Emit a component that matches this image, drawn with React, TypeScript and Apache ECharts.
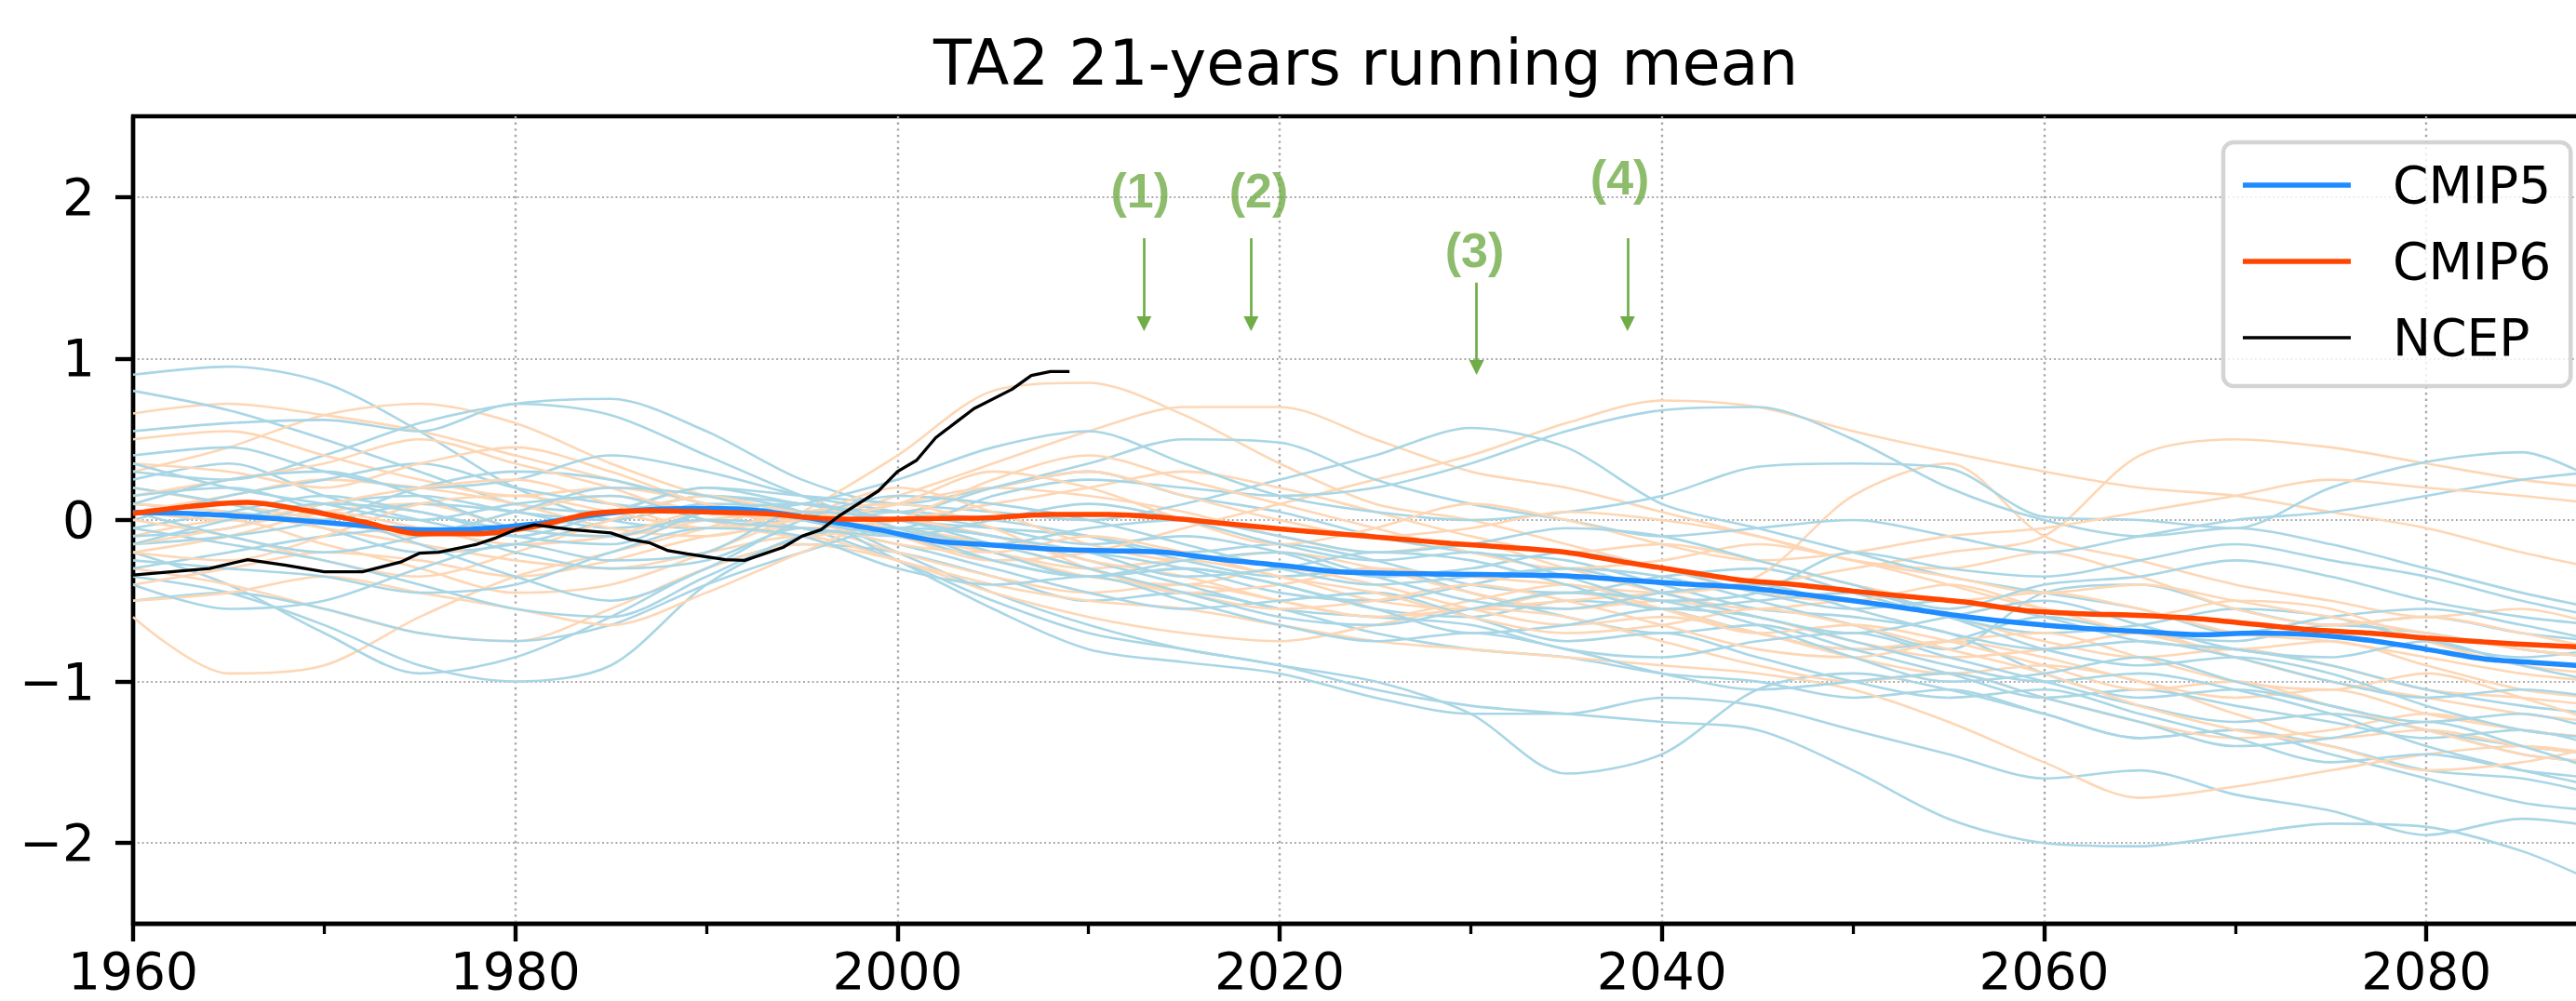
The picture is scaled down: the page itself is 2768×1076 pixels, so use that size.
import React, { useEffect, useRef } from 'react';
import * as echarts from 'echarts';

// ---------- data ----------
const memberYears = [1960, 1965, 1970, 1975, 1980, 1985, 1990, 1995, 2000, 2005, 2010, 2015, 2020, 2025, 2030, 2035, 2040, 2045, 2050, 2055, 2060, 2065, 2070, 2075, 2080, 2085, 2089];

const cmip5Members = [
  [0.90, 0.95, 0.85, 0.55, 0.20, 0.00, -0.05, 0.00, -0.10, -0.25, -0.35, -0.30, -0.40, -0.55, -0.60, -0.50, -0.55, -0.70, -0.80, -0.75, -0.60, -0.70, -0.75, -0.65, -0.70, -0.80, -0.85],
  [0.80, 0.68, 0.50, 0.30, 0.10, 0.05, 0.15, 0.10, 0.00, -0.05, -0.10, -0.20, -0.15, -0.25, -0.40, -0.45, -0.35, -0.30, -0.45, -0.60, -0.70, -0.65, -0.55, -0.60, -0.75, -0.85, -0.80],
  [0.30, 0.25, 0.40, 0.60, 0.72, 0.75, 0.55, 0.25, 0.10, 0.20, 0.30, 0.15, 0.05, -0.10, -0.20, -0.25, -0.40, -0.55, -0.60, -0.70, -0.95, -1.10, -1.05, -1.15, -1.30, -1.40, -1.45],
  [0.55, 0.60, 0.62, 0.55, 0.72, 0.65, 0.40, 0.15, -0.05, -0.15, -0.20, -0.30, -0.45, -0.50, -0.40, -0.30, -0.35, -0.50, -0.65, -0.80, -0.45, -0.40, -0.55, -0.65, -0.60, -0.70, -0.75],
  [-0.35, -0.45, -0.65, -0.90, -1.00, -0.90, -0.40, -0.10, 0.05, 0.00, -0.10, -0.25, -0.35, -0.30, -0.45, -0.60, -0.70, -0.65, -0.80, -0.95, -1.10, -1.05, -1.15, -1.25, -1.35, -1.30, -1.40],
  [-0.20, -0.40, -0.70, -0.95, -0.85, -0.60, -0.30, -0.15, -0.20, -0.35, -0.50, -0.45, -0.55, -0.70, -0.80, -0.85, -0.95, -1.00, -1.10, -1.05, -1.20, -1.35, -1.30, -1.40, -1.55, -1.60, -1.70],
  [0.10, 0.05, 0.00, 0.10, 0.05, -0.05, 0.00, -0.05, -0.25, -0.50, -0.70, -0.80, -0.90, -1.00, -1.20, -1.57, -1.45, -1.05, -0.95, -1.05, -1.20, -1.35, -1.30, -1.45, -1.60, -1.75, -1.80],
  [-0.10, -0.05, 0.10, 0.15, 0.05, 0.00, 0.10, 0.05, -0.20, -0.45, -0.65, -0.80, -0.90, -1.05, -1.15, -1.20, -1.25, -1.30, -1.55, -1.85, -2.00, -2.02, -1.95, -1.88, -1.90, -2.05, -2.25],
  [0.20, 0.10, -0.05, -0.20, -0.15, 0.00, 0.15, 0.05, -0.25, -0.55, -0.80, -0.88, -0.95, -1.10, -1.20, -1.20, -1.10, -1.15, -1.30, -1.45, -1.60, -1.55, -1.70, -1.80, -1.95, -1.85, -1.90],
  [-0.05, 0.05, 0.15, 0.05, -0.05, 0.05, 0.20, 0.15, 0.10, 0.05, 0.00, 0.10, 0.25, 0.40, 0.57, 0.45, 0.10, -0.05, -0.20, -0.35, -0.45, -0.55, -0.70, -0.60, -0.55, -0.65, -0.75],
  [-0.15, -0.10, 0.00, 0.20, 0.30, 0.25, 0.10, 0.00, -0.05, 0.15, 0.25, 0.20, 0.15, 0.20, 0.35, 0.55, 0.68, 0.70, 0.50, 0.20, 0.00, -0.10, -0.05, -0.15, -0.30, -0.45, -0.55],
  [0.00, 0.15, 0.25, 0.35, 0.20, 0.10, 0.05, 0.10, 0.25, 0.45, 0.55, 0.35, 0.15, 0.05, 0.00, 0.05, 0.15, 0.33, 0.35, 0.32, 0.02, 0.00, -0.05, 0.20, 0.36, 0.42, 0.24],
  [0.25, 0.35, 0.15, 0.00, -0.10, 0.05, 0.20, 0.10, 0.05, 0.20, 0.35, 0.50, 0.48, 0.25, 0.10, 0.00, -0.10, -0.05, 0.00, -0.10, -0.20, -0.10, 0.00, 0.05, 0.15, 0.25, 0.30],
  [-0.50, -0.45, -0.55, -0.70, -0.75, -0.65, -0.40, -0.20, -0.05, -0.10, -0.25, -0.40, -0.55, -0.60, -0.65, -0.80, -0.85, -0.75, -0.70, -0.85, -1.00, -1.15, -1.25, -1.20, -1.30, -1.45, -1.50],
  [0.40, 0.45, 0.30, 0.20, 0.25, 0.40, 0.30, 0.15, 0.05, -0.05, -0.15, -0.10, -0.20, -0.35, -0.30, -0.20, -0.30, -0.45, -0.55, -0.50, -0.60, -0.75, -0.80, -0.90, -1.05, -1.15, -1.20],
  [-0.30, -0.20, -0.10, -0.05, -0.20, -0.30, -0.25, -0.05, -0.15, -0.30, -0.45, -0.55, -0.50, -0.45, -0.60, -0.75, -0.70, -0.85, -1.00, -1.10, -1.05, -1.20, -1.35, -1.50, -1.45, -1.55, -1.60],
  [0.15, 0.20, 0.05, -0.15, -0.35, -0.50, -0.30, 0.00, 0.15, 0.10, 0.00, -0.15, -0.30, -0.40, -0.35, -0.30, -0.45, -0.60, -0.70, -0.60, -0.50, -0.65, -0.80, -0.85, -0.75, -0.90, -1.00],
  [-0.05, -0.15, -0.25, -0.40, -0.55, -0.60, -0.35, -0.10, -0.05, -0.20, -0.35, -0.30, -0.40, -0.55, -0.70, -0.65, -0.55, -0.60, -0.75, -0.90, -1.00, -0.95, -1.05, -1.20, -1.40, -1.55, -1.65],
  [0.05, -0.10, -0.20, -0.10, 0.05, 0.20, 0.15, 0.00, -0.10, -0.15, -0.05, 0.00, -0.10, -0.20, -0.15, -0.05, -0.10, -0.25, -0.40, -0.55, -0.40, -0.35, -0.25, -0.35, -0.50, -0.60, -0.65],
  [-0.25, -0.30, -0.35, -0.45, -0.40, -0.20, -0.05, -0.10, -0.30, -0.40, -0.35, -0.50, -0.65, -0.75, -0.70, -0.80, -0.95, -1.05, -1.00, -0.95, -1.10, -1.25, -1.40, -1.35, -1.25, -1.40, -1.55],
  [0.35, 0.20, 0.10, 0.00, 0.10, 0.15, 0.00, -0.05, -0.10, 0.00, 0.10, 0.00, -0.15, -0.25, -0.20, -0.35, -0.50, -0.45, -0.20, -0.30, -0.35, -0.25, -0.15, -0.25, -0.35, -0.50, -0.60],
  [-0.40, -0.55, -0.50, -0.30, -0.15, -0.25, -0.20, 0.05, 0.00, -0.15, -0.30, -0.45, -0.60, -0.65, -0.55, -0.45, -0.50, -0.65, -0.85, -1.00, -0.95, -0.85, -1.00, -1.15, -1.25, -1.20, -1.30],
  [0.10, 0.25, 0.30, 0.15, -0.05, -0.10, 0.05, 0.10, 0.00, -0.10, -0.20, -0.35, -0.30, -0.20, -0.25, -0.40, -0.55, -0.50, -0.45, -0.60, -0.80, -0.90, -0.85, -0.95, -1.15, -1.30, -1.35],
  [-0.15, 0.00, 0.10, 0.05, -0.10, -0.15, 0.05, 0.10, -0.05, -0.25, -0.35, -0.25, -0.20, -0.35, -0.50, -0.55, -0.45, -0.40, -0.55, -0.70, -0.80, -0.75, -0.85, -1.00, -1.10, -1.05, -1.10],
];

const cmip6Members = [
  [0.66, 0.72, 0.65, 0.55, 0.40, 0.25, 0.10, 0.00, 0.10, 0.20, 0.15, 0.05, -0.10, -0.20, -0.15, -0.30, -0.45, -0.55, -0.50, -0.60, -0.75, -0.85, -0.80, -0.90, -1.05, -1.10, -1.15],
  [0.30, 0.45, 0.65, 0.72, 0.60, 0.35, 0.15, 0.05, -0.10, -0.20, -0.30, -0.25, -0.35, -0.50, -0.55, -0.45, -0.55, -0.70, -0.80, -0.75, -0.85, -1.00, -1.10, -1.05, -1.20, -1.30, -1.35],
  [-0.60, -0.95, -0.90, -0.60, -0.35, -0.20, -0.05, 0.10, -0.05, -0.20, -0.35, -0.40, -0.30, -0.40, -0.55, -0.65, -0.60, -0.70, -0.85, -0.95, -0.90, -1.00, -1.20, -1.35, -1.30, -1.40, -1.45],
  [-0.10, 0.00, -0.15, -0.30, -0.45, -0.40, -0.20, 0.05, 0.40, 0.80, 0.85, 0.65, 0.35, 0.10, 0.00, -0.15, -0.30, -0.45, -0.50, -0.40, -0.55, -0.70, -0.80, -0.75, -0.90, -1.05, -1.10],
  [0.20, 0.10, 0.00, -0.10, 0.05, 0.15, 0.05, 0.00, 0.15, 0.35, 0.55, 0.70, 0.70, 0.50, 0.30, 0.20, 0.05, -0.10, -0.25, -0.30, -0.20, -0.35, -0.55, -0.65, -0.60, -0.70, -0.80],
  [-0.20, -0.10, 0.05, 0.10, -0.05, -0.10, 0.00, 0.05, -0.10, -0.25, -0.20, -0.05, 0.10, 0.25, 0.40, 0.60, 0.74, 0.70, 0.55, 0.42, 0.30, 0.20, 0.15, 0.05, -0.05, -0.20, -0.30],
  [0.05, 0.15, 0.25, 0.20, 0.10, -0.05, -0.10, 0.00, -0.05, -0.15, -0.30, -0.45, -0.40, -0.30, -0.35, -0.40, -0.45, -0.35, 0.15, 0.35, -0.10, -0.25, -0.40, -0.50, -0.60, -0.55, -0.65],
  [-0.40, -0.30, -0.20, -0.25, -0.35, -0.25, -0.10, -0.05, -0.20, -0.35, -0.45, -0.40, -0.50, -0.60, -0.55, -0.50, -0.45, -0.40, -0.30, -0.20, -0.10, 0.40, 0.50, 0.45, 0.35, 0.25, 0.20],
  [0.10, 0.05, -0.05, -0.15, -0.25, -0.30, -0.20, -0.10, -0.25, -0.40, -0.50, -0.55, -0.65, -0.75, -0.80, -0.85, -0.90, -0.95, -1.05, -1.25, -1.50, -1.72, -1.65, -1.55, -1.45, -1.40, -1.45],
  [0.50, 0.55, 0.40, 0.25, 0.15, 0.20, 0.10, -0.05, 0.00, 0.10, 0.20, 0.30, 0.20, 0.05, -0.10, -0.20, -0.15, -0.25, -0.40, -0.50, -0.45, -0.55, -0.70, -0.75, -0.85, -0.95, -1.00],
  [-0.30, -0.40, -0.55, -0.70, -0.75, -0.55, -0.30, -0.15, -0.25, -0.45, -0.60, -0.70, -0.75, -0.65, -0.55, -0.60, -0.75, -0.90, -1.00, -0.95, -1.10, -1.25, -1.35, -1.30, -1.20, -1.30, -1.35],
  [0.00, -0.10, -0.25, -0.35, -0.20, 0.00, 0.15, 0.05, 0.05, 0.20, 0.30, 0.15, 0.00, -0.10, -0.05, 0.05, 0.00, -0.10, -0.25, -0.35, -0.45, -0.40, -0.50, -0.60, -0.70, -0.80, -0.85],
  [0.35, 0.30, 0.20, 0.35, 0.45, 0.30, 0.10, 0.05, 0.20, 0.05, -0.15, -0.25, -0.20, -0.30, -0.45, -0.55, -0.50, -0.60, -0.75, -0.85, -0.80, -0.70, -0.85, -1.00, -1.10, -1.20, -1.25],
  [-0.50, -0.45, -0.35, -0.45, -0.55, -0.65, -0.45, -0.20, 0.00, -0.10, -0.25, -0.35, -0.50, -0.60, -0.50, -0.40, -0.55, -0.70, -0.65, -0.75, -0.90, -1.05, -1.00, -1.15, -1.30, -1.45, -1.50],
  [0.15, 0.25, 0.35, 0.50, 0.35, 0.20, 0.00, -0.10, 0.00, 0.25, 0.40, 0.25, 0.10, -0.05, -0.20, -0.30, -0.25, -0.15, -0.25, -0.40, -0.55, -0.60, -0.50, -0.55, -0.75, -0.90, -0.95],
  [-0.20, -0.25, -0.10, 0.10, 0.15, 0.05, -0.05, 0.05, 0.10, -0.05, -0.30, -0.45, -0.55, -0.50, -0.40, -0.50, -0.65, -0.80, -0.85, -0.75, -0.70, -0.85, -1.00, -1.05, -0.95, -1.10, -1.25],
  [0.05, 0.00, 0.10, 0.20, 0.25, 0.10, -0.05, 0.00, 0.10, 0.30, 0.20, 0.00, -0.15, -0.05, 0.10, 0.00, -0.15, -0.25, -0.20, -0.10, -0.05, 0.05, 0.15, 0.25, 0.20, 0.15, 0.10],
  [-0.15, -0.05, 0.05, -0.05, -0.15, -0.10, 0.05, 0.00, -0.15, -0.20, -0.10, -0.20, -0.35, -0.45, -0.60, -0.70, -0.65, -0.55, -0.65, -0.80, -0.95, -1.15, -1.30, -1.40, -1.55, -1.50, -1.40],
];

const meanYears = [1960, 1963, 1966, 1969, 1972, 1975, 1978, 1981, 1984, 1987, 1990, 1993, 1996, 1999, 2002, 2005, 2008, 2011, 2014, 2017, 2020, 2023, 2026, 2029, 2032, 2035, 2038, 2041, 2044, 2047, 2050, 2053, 2056, 2059, 2062, 2065, 2068, 2071, 2074, 2077, 2080, 2083, 2086, 2089];
const cmip5Mean = [0.047, 0.04, 0.02, -0.005, -0.035, -0.06, -0.055, -0.025, 0.03, 0.065, 0.072, 0.055, 0.0, -0.06, -0.13, -0.155, -0.18, -0.19, -0.2, -0.245, -0.28, -0.32, -0.33, -0.335, -0.34, -0.345, -0.37, -0.395, -0.415, -0.455, -0.5, -0.55, -0.6, -0.64, -0.67, -0.69, -0.71, -0.7, -0.71, -0.745, -0.8, -0.86, -0.885, -0.91];
const cmip6Mean = [0.04, 0.085, 0.11, 0.06, -0.01, -0.085, -0.085, -0.04, 0.04, 0.058, 0.05, 0.04, 0.01, 0.005, 0.01, 0.015, 0.035, 0.035, 0.015, -0.02, -0.055, -0.085, -0.115, -0.145, -0.17, -0.2, -0.26, -0.315, -0.37, -0.4, -0.44, -0.475, -0.51, -0.56, -0.58, -0.59, -0.61, -0.645, -0.68, -0.7, -0.73, -0.755, -0.775, -0.79];

const ncepYears = [1960, 1962, 1964, 1966, 1968, 1970, 1972, 1974, 1975, 1976, 1978, 1979, 1980, 1981, 1983, 1985, 1986, 1987, 1988, 1989, 1991, 1992, 1994, 1995, 1996, 1997, 1999, 2000, 2001, 2002, 2003, 2004, 2006, 2007, 2008, 2009];
const ncepValues = [-0.34, -0.32, -0.3, -0.245, -0.28, -0.32, -0.32, -0.26, -0.205, -0.2, -0.15, -0.11, -0.06, -0.03, -0.06, -0.08, -0.12, -0.14, -0.19, -0.21, -0.245, -0.25, -0.17, -0.1, -0.06, 0.03, 0.18, 0.3, 0.37, 0.51, 0.6, 0.69, 0.81, 0.895, 0.92, 0.92];

const yTickValues = [-2, -1, 0, 1, 2];

const annotationTexts = ['(1)', '(2)', '(3)', '(4)'];
const annotationTextX = [2012.7, 2018.9, 2030.2, 2037.8];
const annotationTextY = [2.04, 2.04, 1.67, 2.12];
const arrowX = [2012.9, 2018.5, 2030.3, 2038.2];
const arrowStartY = [1.745, 1.745, 1.47, 1.745];
const arrowEndY = [1.215, 1.215, 0.945, 1.215];

// ---------- styling ----------
const FONT = 'DejaVu Sans';
const BLUE_LIGHT = '#a9d6e5';
const PEACH = '#fdd7b5';
const BLUE = '#1e8cff';
const RED = '#ff4500';
const GREEN = '#70ad47';

const member = (vals: number[], color: string, name: string) => ({
  type: 'line',
  name,
  data: memberYears.map((y, i) => [y, vals[i]]),
  symbol: 'none',
  smooth: 0.3,
  silent: true,
  lineStyle: { color, width: 2.6 },
  itemStyle: { color },
  emphasis: { disabled: true },
});

export default function App() {
  const ref = useRef<HTMLDivElement>(null);
  useEffect(() => {
    if (!ref.current) return;
    const chart = echarts.init(ref.current, null, { renderer: 'svg' });

    const members: any[] = [];
    const n = Math.max(cmip5Members.length, cmip6Members.length);
    for (let i = 0; i < n; i++) {
      if (cmip5Members[i]) members.push(member(cmip5Members[i], BLUE_LIGHT, 'CMIP5 member ' + (i + 1)));
      if (cmip6Members[i]) members.push(member(cmip6Members[i], PEACH, 'CMIP6 member ' + (i + 1)));
    }

    const option: any = {
      animation: false,
      title: {
        text: 'TA2 21-years running mean',
        left: 'center',
        top: 34,
        padding: 0,
        textStyle: { fontFamily: FONT, fontSize: 67, fontWeight: 'normal', color: '#000' },
      },
      legend: {
        data: [
          { name: 'CMIP5', icon: 'rect' },
          { name: 'CMIP6', icon: 'rect' },
          { name: 'NCEP', icon: 'path://M0,0h0.01v0.01h-0.01z M0,1h116v3.6h-116z M0,5.49h0.01v0.01h-0.01z' },
        ],
        orient: 'vertical',
        left: 2389,
        top: 153,
        itemWidth: 116,
        itemHeight: 5.5,
        itemGap: 22,
        padding: [16, 21, 22, 21],
        backgroundColor: 'rgba(255,255,255,0.8)',
        borderColor: 'rgba(204,204,204,0.85)',
        borderWidth: 4.5,
        borderRadius: 11,
        selectedMode: false,
        itemStyle: { borderWidth: 0 },
        textStyle: { fontFamily: FONT, fontSize: 55, color: '#000', lineHeight: 60, padding: [0, 0, 0, 40] },
      },
      grid: {
        left: 143,
        right: 143,
        top: 125,
        bottom: 83,
        show: true,
        borderColor: '#000',
        borderWidth: 4.4,
        backgroundColor: 'transparent',
        containLabel: false,
        outerBoundsMode: 'none',
      },
      xAxis: {
        type: 'value',
        min: 1960,
        max: 2089,
        interval: 20,
        axisLine: { show: true, onZero: false, lineStyle: { color: '#000', width: 4.4 } },
        axisTick: { show: true, length: 19, lineStyle: { color: '#000', width: 4.4 } },
        minorTick: { show: true, splitNumber: 2, length: 11, lineStyle: { color: '#000', width: 3.3 } },
        axisLabel: {
          show: true,
          margin: 22,
          fontFamily: FONT,
          fontSize: 55,
          lineHeight: 58,
          color: '#000',
          showMaxLabel: false,
          formatter: (v: number) => String(v),
        },
        splitLine: { show: true, lineStyle: { color: '#a8a8a8', width: 2.4, type: [2.4, 4.2] } },
        minorSplitLine: { show: false },
      },
      yAxis: {
        type: 'value',
        min: -2.5,
        max: 2.5,
        axisLine: { show: true, onZero: false, lineStyle: { color: '#000', width: 4.4 } },
        axisTick: { show: true, length: 19, customValues: yTickValues, lineStyle: { color: '#000', width: 4.4 } },
        axisLabel: {
          show: true,
          customValues: yTickValues,
          margin: 41,
          fontFamily: FONT,
          fontSize: 55,
          color: '#000',
          formatter: (v: number) => (v < 0 ? '\u2212' + Math.abs(v) : String(v)),
        },
        splitLine: { show: true, lineStyle: { color: '#a8a8a8', width: 1.9, type: [1.9, 2.9] } },
      },
      series: [
        ...members,
        {
          type: 'line',
          name: 'CMIP5',
          data: meanYears.map((y, i) => [y, cmip5Mean[i]]),
          symbol: 'none',
          smooth: 0.3,
          silent: true,
          color: BLUE,
          lineStyle: { color: BLUE, width: 5.5 },
          itemStyle: { color: BLUE },
        },
        {
          type: 'line',
          name: 'CMIP6',
          data: meanYears.map((y, i) => [y, cmip6Mean[i]]),
          symbol: 'none',
          smooth: 0.3,
          silent: true,
          color: RED,
          lineStyle: { color: RED, width: 5.5 },
          itemStyle: { color: RED },
        },
        {
          type: 'line',
          name: 'NCEP',
          data: ncepYears.map((y, i) => [y, ncepValues[i]]),
          symbol: 'none',
          smooth: false,
          silent: true,
          color: '#000',
          lineStyle: { color: '#000', width: 3.3 },
          itemStyle: { color: '#000' },
        },
        {
          type: 'scatter',
          name: 'annotations',
          silent: true,
          symbolSize: 1,
          itemStyle: { color: 'rgba(0,0,0,0)' },
          data: annotationTexts.map((t, i) => ({ name: t, value: [annotationTextX[i], annotationTextY[i]] })),
          label: {
            show: true,
            position: 'inside',
            formatter: '{b}',
            color: GREEN,
            fontFamily: 'Liberation Sans',
            fontWeight: 'bold',
            fontSize: 52,
          },
          markLine: {
            silent: true,
            symbol: ['none', 'triangle'],
            symbolSize: 16,
            label: { show: false },
            emphasis: { disabled: true },
            lineStyle: { color: GREEN, width: 2.7, type: 'solid' },
            data: arrowX.map((x, i) => [{ coord: [x, arrowStartY[i]] }, { coord: [x, arrowEndY[i]] }]),
          },
        },
      ],
    };

    chart.setOption(option);
    return () => chart.dispose();
  }, []);

  return (
    <div style={{ position: 'fixed', left: 0, top: 0, width: 2768, height: 1076, overflow: 'hidden', background: '#fff' }}>
      <div ref={ref} style={{ width: 2935, height: 1076 }} />
    </div>
  );
}
